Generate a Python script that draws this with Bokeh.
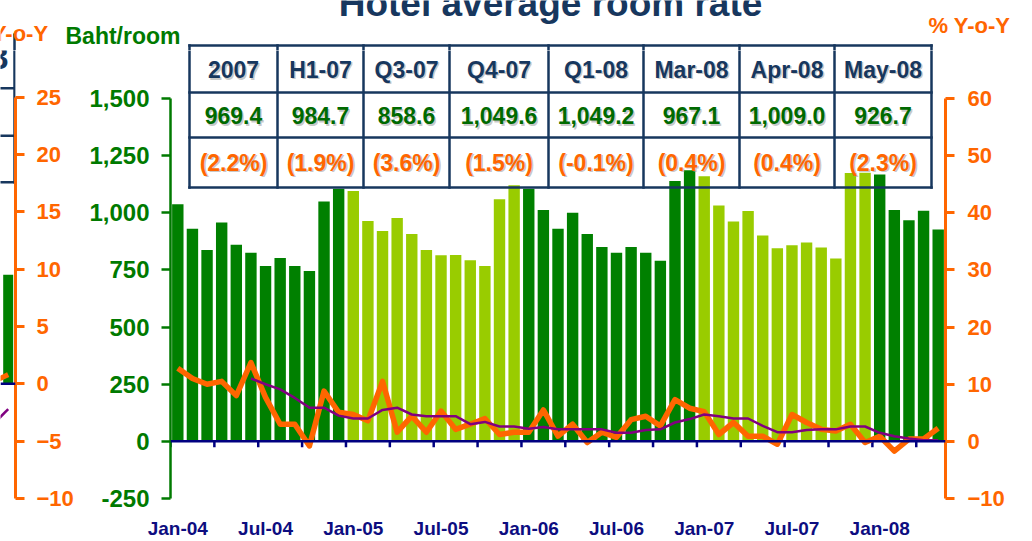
from bokeh.plotting import figure
from bokeh.layouts import row, column
from bokeh.models import Range1d, LinearAxis, FixedTicker, NumeralTickFormatter, Span, ColumnDataSource
from bokeh.core.properties import value
from bokeh.embed import file_html
from bokeh.resources import INLINE

# ---------------- data ----------------
MONTH_NAMES = ["Jan", "Feb", "Mar", "Apr", "May", "Jun", "Jul", "Aug", "Sep", "Oct", "Nov", "Dec"]
months = [f"{MONTH_NAMES[i % 12]}-{4 + i // 12:02d}" for i in range(53)]  # Jan-04 .. May-08

room_rate = [
    1037, 930, 837, 957, 860, 825, 767, 802, 767, 745, 1049, 1105,
    1095, 964, 920, 977, 907, 837, 814, 815, 792, 767, 1059, 1120,
    1105, 1012, 930, 1000, 907, 850, 825, 850, 825, 790, 1139, 1186,
    1160, 1032, 962, 1008, 901, 845, 858, 870, 848, 800, 1174, 1175,
    1168, 1012, 967.1, 1009.0, 926.7,
]
yoy_pct = [
    12.8, 11.0, 10.0, 10.5, 8.0, 13.8, 7.7, 3.0, 3.0, -0.8, 8.8, 5.1,
    4.7, 3.6, 10.5, 1.6, 4.4, 1.6, 5.3, 2.1, 3.0, 4.0, 1.2, 1.6,
    1.6, 5.5, 0.9, 3.0, -0.2, 1.6, 0.7, 3.8, 4.4, 2.7, 7.3, 5.8,
    5.2, 1.2, 3.3, 0.9, 0.9, -0.5, 4.7, 3.3, 2.1, 1.8, 3.0, -0.2,
    0.9, -1.7, 0.4, 0.4, 2.3,
]
NaN = float("nan")
avg_pct = [NaN] * 5 + [
    11.0, 10.0, 9.1, 7.6, 5.9, 5.9, 4.5,
    4.0, 4.0, 5.5, 5.9, 4.7, 4.4, 4.4, 4.4, 3.0, 3.4, 2.6, 2.6,
    2.2, 2.5, 2.1, 2.1, 2.1, 2.1, 1.5, 1.5, 2.0, 2.1, 3.3, 3.9,
    4.7, 4.4, 4.0, 4.0, 2.7, 1.6, 1.6, 2.0, 2.1, 2.1, 2.6, 2.6,
    1.5, 0.9, 0.5, 0.2, 0.2,
]
x_tick_labels = ["Jan-04", "Jul-04", "Jan-05", "Jul-05", "Jan-06", "Jul-06", "Jan-07", "Jul-07", "Jan-08"]

table_headers = ["2007", "H1-07", "Q3-07", "Q4-07", "Q1-08", "Mar-08", "Apr-08", "May-08"]
table_rates = ["969.4", "984.7", "858.6", "1,049.6", "1,049.2", "967.1", "1,009.0", "926.7"]
table_yoy = ["(2.2%)", "(1.9%)", "(3.6%)", "(1.5%)", "(-0.1%)", "(0.4%)", "(0.4%)", "(2.3%)"]

# fragment of the neighbouring chart at the left edge
frag_bar = [9.5]
frag_yoy = [0.2, 0.8]
frag_avg = [-3.5, -2.2]

# ---------------- style ----------------
DARK_GREEN = "#008000"
LIGHT_GREEN = "#99CC00"
ORANGE = "#FF6600"
PURPLE = "#800080"
NAVY_LINE = "#000080"
NAVY_TEXT = "#17375E"
AXIS_GREEN = "#007A00"
VAL_GREEN = "#006A00"
FONT = "Liberation Sans"

W, H = 1032, 541
STRIP_H = 50          # top strip with titles
A_W = 80              # fragment panel width

idx = list(range(len(months)))
bar_colors = [DARK_GREEN if (int(m[-2:]) % 2 == 0) else LIGHT_GREEN for m in months]

# layout helpers (global canvas pixels -> data) for main figure
FR_L, FR_R, Y_TOP_TICK, Y_BOT = 170, 945, 98, 498
ppx = (FR_R - FR_L) / len(months)
ypx = (Y_BOT - Y_TOP_TICK) / 1750.0
pct_px = (Y_BOT - Y_TOP_TICK) / 70.0


def bx(sx):
    return -0.5 + (sx - FR_L) / ppx


def by(sy):
    return -250 + (Y_BOT - sy) / ypx


def style_axis(ax, color, size, lw):
    ax.axis_line_color = color
    ax.axis_line_width = lw
    ax.major_tick_line_color = color
    ax.major_tick_line_width = lw
    ax.major_tick_out = 9
    ax.major_tick_in = 0
    ax.minor_tick_line_color = None
    ax.major_label_text_color = color
    ax.major_label_text_font = FONT
    ax.major_label_text_font_style = "bold"
    ax.major_label_text_font_size = size


cols_px = [189, 277, 363, 449, 548, 643, 739, 834, 931]
rows_px = [45, 92, 137, 187]

# ---------------- top strip (title, axis titles, table top) ----------------
s = figure(width=W, height=STRIP_H, x_range=Range1d(0, W), y_range=Range1d(STRIP_H, 0),
           x_axis_location=None, y_axis_location=None, output_backend="svg", toolbar_location=None,
           min_border_left=0, min_border_right=0, min_border_top=0, min_border_bottom=0,
           outline_line_color=None, background_fill_color="white", border_fill_color="white")
s.xgrid.visible = False
s.ygrid.visible = False
s.segment(x0=[14], y0=[33], x1=[14], y1=[STRIP_H + 2], line_color=NAVY_TEXT, line_width=2.5)
s.segment(x0=[cols_px[0]], y0=[rows_px[0]], x1=[cols_px[-1]], y1=[rows_px[0]],
          line_color=NAVY_TEXT, line_width=2.5, line_cap="square")
s.segment(x0=cols_px, y0=[rows_px[0]] * len(cols_px), x1=cols_px, y1=[STRIP_H + 2] * len(cols_px),
          line_color=NAVY_TEXT, line_width=2.5, line_cap="square")
s.text(x=[550], y=[3], text=["Hotel average room rate"], text_font=value(FONT), text_font_style="bold",
       text_font_size="37px", text_color=NAVY_TEXT, text_align="center", text_baseline="middle")
s.text(x=[65], y=[35.0], text=["Baht/room"], text_font=value(FONT), text_font_style="bold",
       text_font_size="23px", text_color=AXIS_GREEN, text_align="left", text_baseline="middle")
s.text(x=[928], y=[25.3], text=["% Y-o-Y"], text_font=value(FONT), text_font_style="bold",
       text_font_size="22px", text_color=ORANGE, text_align="left", text_baseline="middle")
s.text(x=[48], y=[33.3], text=["% Y-o-Y"], text_font=value(FONT), text_font_style="bold",
       text_font_size="22px", text_color=ORANGE, text_align="right", text_baseline="middle")

# ---------------- main chart ----------------
B_W = W - A_W
p = figure(width=B_W, height=H - STRIP_H,
           x_range=Range1d(-0.5, len(months) - 0.5),
           y_range=Range1d(-250, -250 + (Y_BOT - STRIP_H) / ypx),
           output_backend="svg", toolbar_location=None,
           min_border_left=FR_L - A_W, min_border_right=W - FR_R,
           min_border_top=0, min_border_bottom=H - Y_BOT,
           outline_line_color=None, background_fill_color="white", border_fill_color="white")
p.xgrid.visible = False
p.ygrid.visible = False
p.extra_y_ranges = {"pct": Range1d(-10, -10 + (Y_BOT - STRIP_H) / pct_px)}

la = p.yaxis[0]
la.bounds = (-250, 1500)
la.ticker = FixedTicker(ticks=list(range(-250, 1501, 250)), minor_ticks=[])
la.formatter = NumeralTickFormatter(format="0,0")
style_axis(la, AXIS_GREEN, "24px", 2.5)
la.major_label_standoff = 12

ra = LinearAxis(y_range_name="pct", bounds=(-10, 60),
                ticker=FixedTicker(ticks=list(range(-10, 61, 10)), minor_ticks=[]))
style_axis(ra, ORANGE, "22px", 3)
ra.major_label_standoff = 13
p.add_layout(ra, "right")

xa = p.xaxis[0]
tick_pos = [months.index(lab) for lab in x_tick_labels]
xa.ticker = FixedTicker(ticks=tick_pos, minor_ticks=[])
xa.major_label_overrides = {t: lab for t, lab in zip(tick_pos, x_tick_labels)}
xa.axis_line_color = None
xa.major_tick_line_color = None
xa.minor_tick_line_color = None
xa.major_tick_out = 0
xa.major_tick_in = 0
xa.major_label_standoff = 19
xa.major_label_text_color = "#0D0D80"
xa.major_label_text_font = FONT
xa.major_label_text_font_style = "bold"
xa.major_label_text_font_size = "19px"

src = ColumnDataSource(dict(x=idx, rate=room_rate, yoy=yoy_pct, avg=avg_pct, color=bar_colors))
p.vbar(x="x", top="rate", bottom=0, width=0.78, fill_color="color", line_color=None, source=src)

p.add_layout(Span(location=0, dimension="width", line_color=NAVY_LINE, line_width=2.5))
qt = [i - 0.5 for i in range(0, len(months), 3)]
p.segment(x0=qt, y0=[0] * len(qt), x1=qt, y1=[-6 / ypx] * len(qt), line_color=NAVY_LINE, line_width=2.5)

p.line(x="x", y="yoy", y_range_name="pct", line_color=ORANGE, line_width=5.5, line_join="round", source=src)
p.line(x="x", y="avg", y_range_name="pct", line_color=PURPLE, line_width=2.5, source=src)

# table (continuing from the strip)
p.segment(x0=[bx(cols_px[0])] * 3, x1=[bx(cols_px[-1])] * 3,
          y0=[by(r) for r in rows_px[1:]], y1=[by(r) for r in rows_px[1:]],
          line_color=NAVY_TEXT, line_width=2.5, line_cap="square")
p.segment(x0=[bx(c) for c in cols_px], x1=[bx(c) for c in cols_px],
          y0=[by(STRIP_H - 2)] * len(cols_px), y1=[by(rows_px[-1])] * len(cols_px),
          line_color=NAVY_TEXT, line_width=2.5, line_cap="square")
cx = [bx((a + b) / 2) for a, b in zip(cols_px[:-1], cols_px[1:])]
row_y = [by(69), by(115), by(162)]
for texts, yy, col in [(table_headers, row_y[0], NAVY_TEXT), (table_rates, row_y[1], VAL_GREEN),
                       (table_yoy, row_y[2], ORANGE)]:
    p.text(x=cx, y=[yy] * len(cx), text=texts, text_font=value(FONT), text_font_style="bold",
           text_font_size="23px", text_color="#9a9a9a", text_alpha=0.55, text_align="center",
           text_baseline="middle", x_offset=1.5, y_offset=1.5)
    p.text(x=cx, y=[yy] * len(cx), text=texts, text_font=value(FONT), text_font_style="bold",
           text_font_size="23px", text_color=col, text_align="center", text_baseline="middle")

# ---------------- fragment of previous chart ----------------
A_FR_R, A_Y25, A_YBOT = 15, 97, 502
apx = (A_YBOT - A_Y25) / 35.0


def ax_(sx):
    return 0.5 - (A_FR_R - sx) / ppx


def ay_(sy):
    return -10 + (A_YBOT - sy) / apx


pa = figure(width=A_W, height=H - STRIP_H,
            x_range=Range1d(0.5 - A_FR_R / ppx, 0.5),
            y_range=Range1d(-10, -10 + (A_YBOT - STRIP_H) / apx),
            x_axis_location=None, y_axis_location=None,
            output_backend="svg", toolbar_location=None,
            min_border_left=0, min_border_right=A_W - A_FR_R,
            min_border_top=0, min_border_bottom=H - A_YBOT,
            outline_line_color=None, background_fill_color="white", border_fill_color="white")
pa.xgrid.visible = False
pa.ygrid.visible = False
fa = LinearAxis(bounds=(-10, 25), ticker=FixedTicker(ticks=list(range(-10, 26, 5)), minor_ticks=[]))
style_axis(fa, ORANGE, "22px", 3)
fa.major_label_standoff = 12
pa.add_layout(fa, "right")

pa.vbar(x=[0], top=frag_bar, bottom=0, width=10 / ppx, fill_color=DARK_GREEN, line_color=None)
pa.add_layout(Span(location=0, dimension="width", line_color=NAVY_LINE, line_width=2.5))
pa.line(x=[-1, 0], y=frag_yoy, line_color=ORANGE, line_width=5)
pa.line(x=[-1, 0], y=frag_avg, line_color=PURPLE, line_width=2.5)
f_rows = [88, 136, 183]
pa.segment(x0=[ax_(-5)] * 3, x1=[ax_(14)] * 3, y0=[ay_(r) for r in f_rows], y1=[ay_(r) for r in f_rows],
           line_color=NAVY_TEXT, line_width=2.5)
pa.segment(x0=[ax_(14)], x1=[ax_(14)], y0=[ay_(STRIP_H - 2)], y1=[ay_(f_rows[-1])],
           line_color=NAVY_TEXT, line_width=2.5, line_cap="square")
pa.text(x=[ax_(8)], y=[ay_(57.5)], text=["08"], text_font=value(FONT), text_font_style="bold",
        text_font_size="34px", text_color=NAVY_TEXT, text_align="right", text_baseline="middle")

layout = column(s, row(pa, p))
open("out.html", "w").write(file_html(layout, INLINE))
